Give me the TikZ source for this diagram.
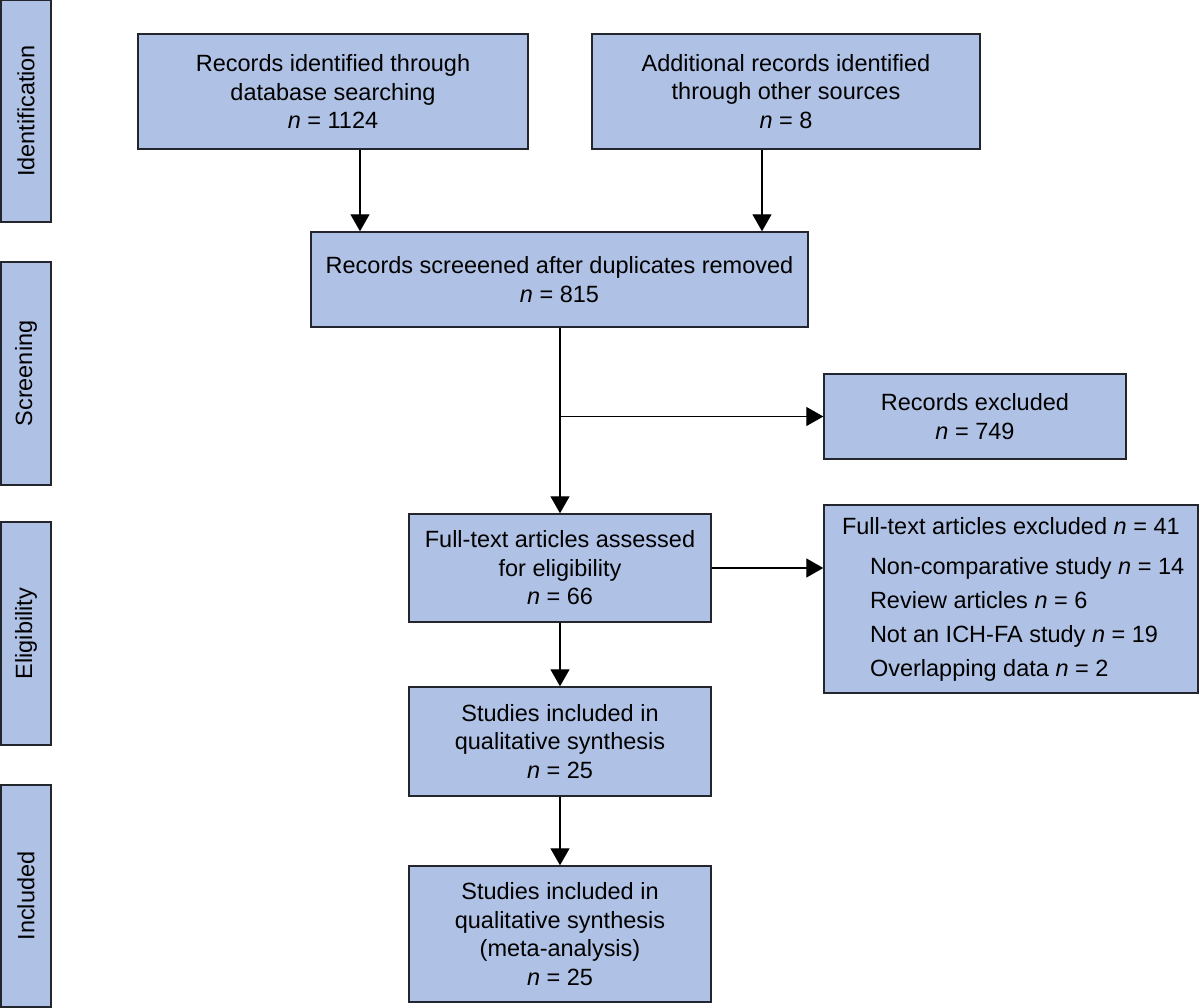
\documentclass[tikz,border=0pt]{standalone}
\usepackage{fontspec}
\setmainfont{Liberation Sans}
\usetikzlibrary{arrows.meta}
\definecolor{boxfill}{RGB}{175,193,228}
\definecolor{boxline}{RGB}{35,38,45}
\begin{document}
\begin{tikzpicture}[x=1pt,y=-1pt,
  every node/.style={font=\fontsize{23.5}{28.5}\selectfont},
  box/.style={draw=boxline,line width=1.4pt,fill=boxfill,inner sep=0pt,align=center},
  side/.style={box,rotate=90,minimum height=50pt},
  arr/.style={draw=black,line width=1.3pt,-{Triangle[width=19pt,length=17pt]}}]
\useasboundingbox (0,0) rectangle (1200,1008);
% side labels
\node[side,minimum width=222pt] (id) at (26,111) {Identification};
\node[side,minimum width=223pt] (sc) at (26,373.5) {Screening};
\node[side,minimum width=223pt] (el) at (26,633.5) {Eligibility};
\node[side,minimum width=222pt] (inc) at (26,896) {Included};
% boxes
\node[box,minimum width=390pt,minimum height=115pt] (b1) at (333,91.5)
  {Records identified through\\database searching\\\textit{n} = 1124};
\node[box,minimum width=388pt,minimum height=115pt] (b2) at (786,91.5)
  {Additional records identified\\through other sources\\\textit{n} = 8};
\node[box,minimum width=497pt,minimum height=95pt] (b3) at (559.5,279.5)
  {Records screeened after duplicates removed\\\textit{n} = 815};
\node[box,minimum width=302pt,minimum height=85pt] (ex) at (975,416.5)
  {Records excluded\\\textit{n} = 749};
\node[box,minimum width=302pt,minimum height=108pt] (b4) at (560,568)
  {Full-text articles assessed\\for eligibility\\\textit{n} = 66};
\node[box,minimum width=374pt,minimum height=188pt] (b5) at (1011,599)
  {\hspace*{12pt}\begin{minipage}{350pt}\fontsize{23.5}{34}\selectfont
   Full-text articles excluded \textit{n} = 41\\[6pt]
   \hspace*{28pt}Non-comparative study \textit{n} = 14\\
   \hspace*{28pt}Review articles \textit{n} = 6\\
   \hspace*{28pt}Not an ICH-FA study \textit{n} = 19\\
   \hspace*{28pt}Overlapping data \textit{n} = 2
   \end{minipage}};
\node[box,minimum width=302pt,minimum height=109pt] (b6) at (560,741.5)
  {Studies included in\\qualitative synthesis\\\textit{n} = 25};
\node[box,minimum width=302pt,minimum height=136pt] (b7) at (560,934)
  {Studies included in\\qualitative synthesis\\(meta-analysis)\\\textit{n} = 25};
% connectors
\coordinate (branch) at (b4.north |- ex.west);
\draw[arr] ([xshift=27pt]b1.south) -- ([xshift=27pt]b1.south |- b3.north);
\draw[arr] ([xshift=-24pt]b2.south) -- ([xshift=-24pt]b2.south |- b3.north);
\draw[arr] (b3.south -| b4.north) -- (b4.north);
\draw[arr] (branch) -- (ex.west);
\draw[arr] (b4.east) -- (b4.east -| b5.west);
\draw[arr] (b4.south) -- (b6.north);
\draw[arr] (b6.south) -- (b7.north);
\end{tikzpicture}
\end{document}
